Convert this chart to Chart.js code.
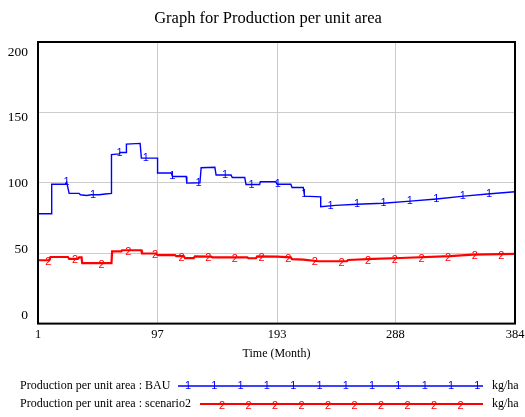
<!DOCTYPE html>
<html>
<head>
<meta charset="utf-8">
<script src="https://cdn.jsdelivr.net/npm/chart.js@4"></script>
<style>
  html, body { margin: 0; padding: 0; background: #fff; }
</style>
</head>
<body>
<canvas id="chart" width="525" height="417"></canvas>
<script>
// Tick labels
const xTicks = [1, 97, 193, 288, 384];
const yTicks = [0, 50, 100, 150, 200];

// BAU series (month, kg/ha) - repeated months are the vertical steps
const bauMonths = [1, 12, 12, 23, 24, 26, 34, 35, 40, 44, 50, 55, 60, 60, 66, 67, 72, 72, 83, 84, 97, 97,
  108, 109, 120, 120.5, 131, 132, 143, 144, 156, 157, 167, 168, 179, 179.5, 192, 193, 204, 205, 214, 215,
  228, 228, 240, 257, 278, 300, 321, 343, 362, 384];
const bauValues = [78, 78, 99, 99, 100.5, 92.5, 92.5, 91.5, 91, 91.5, 91.5, 92, 92.5, 120, 120.5, 121.5, 121.5, 127.5, 128, 117.5, 117.5, 107,
  107, 104.5, 104.5, 99.8, 100, 110.7, 111, 105.5, 105.5, 103.8, 103.8, 98.8, 98.8, 100.7, 100.7, 99, 99, 96.7, 96.7, 90.5,
  90, 83, 84, 84.8, 85.5, 87, 88.5, 90.5, 92, 93.6];

// scenario2 series
const sc2Months = [1, 10, 11, 25, 26, 33, 34, 36, 36.5, 60, 60.5, 68, 68.5, 84, 84.5, 96, 97, 111, 112, 118, 119,
  126, 127, 140, 141, 169, 170, 176, 177, 193, 204, 205, 214, 226, 249, 250, 270, 292, 332, 350, 384];
const sc2Values = [45, 45, 47.3, 47.3, 46, 46, 47, 47, 43, 43, 51.3, 51.3, 52.1, 52.1, 49.8, 49.8, 48.6, 48.6, 47.9, 47.9, 46.5,
  46.5, 47.7, 47.6, 47.1, 47.1, 46.4, 46.4, 47.7, 47.5, 47, 45.8, 45.5, 44.3, 44.4, 45.2, 46, 46.6, 47.9, 49, 49.5];

const seriesNames = ["Production per unit area : BAU", "Production per unit area : scenario2"];
const unitLabel = "kg/ha";
const chartTitle = "Graph for Production per unit area";

const serif = "'Liberation Serif', 'Times New Roman', serif";
const sans = "'Liberation Sans', Arial, sans-serif";

function toPoints(months, values) {
  return months.map((m, i) => ({ x: m, y: values[i] }));
}

// y pixel along the drawn line at a given x pixel
function lineYAt(pts, px) {
  for (let i = pts.length - 2; i >= 0; i--) {
    const a = pts[i], b = pts[i + 1];
    if (a.x <= px && px <= b.x) {
      if (b.x === a.x) return b.y;
      return a.y + (b.y - a.y) * (px - a.x) / (b.x - a.x);
    }
  }
  return pts[pts.length - 1].y;
}

// Vensim-style number markers on each line
const markerPlugin = {
  id: "markers",
  afterDatasetsDraw(chart) {
    const ctx = chart.ctx;
    const xs = chart.scales.x;
    ctx.save();
    ctx.font = "11px " + sans;
    ctx.textAlign = "center";
    ctx.textBaseline = "middle";
    chart.data.datasets.forEach((ds, di) => {
      const pts = chart.getDatasetMeta(di).data;
      ctx.fillStyle = ds.borderColor;
      for (let m = ds.markerStart; m <= xs.max + 0.01; m += ds.markerStep) {
        const px = xs.getPixelForValue(m);
        const py = lineYAt(pts, px);
        ctx.fillText(ds.markerChar, px, py + ds.markerDy);
      }
    });
    ctx.restore();
  }
};

// black frame round the plot + title
const framePlugin = {
  id: "frame",
  afterDatasetsDraw(chart) {
    const a = chart.chartArea;
    const ctx = chart.ctx;
    ctx.save();
    ctx.strokeStyle = "#000";
    ctx.lineWidth = 2;
    ctx.strokeRect(a.left, a.top, a.right - a.left, a.bottom - a.top);
    ctx.font = "16.5px " + serif;
    ctx.fillStyle = "#000";
    ctx.textAlign = "center";
    ctx.textBaseline = "middle";
    ctx.fillText(chartTitle, 268, 19);
    ctx.restore();
  }
};

// legend rows under the chart
const legendPlugin = {
  id: "vlegend",
  afterDraw(chart) {
    const ctx = chart.ctx;
    const rows = [
      { y: 386, lineStart: 178, first: 188, step: 26.3, count: 12 },
      { y: 404, lineStart: 200, first: 222, step: 26.5, count: 10 }
    ];
    const lineEnd = 483;
    ctx.save();
    chart.data.datasets.forEach((ds, i) => {
      const r = rows[i];
      ctx.font = "12px " + serif;
      ctx.fillStyle = "#000";
      ctx.textAlign = "left";
      ctx.textBaseline = "middle";
      ctx.fillText(ds.label, 20, r.y);
      ctx.fillText(unitLabel, 492, r.y);
      ctx.strokeStyle = ds.borderColor;
      ctx.lineWidth = ds.borderWidth;
      ctx.beginPath();
      ctx.moveTo(r.lineStart, r.y);
      ctx.lineTo(lineEnd, r.y);
      ctx.stroke();
      ctx.font = "11px " + sans;
      ctx.fillStyle = ds.borderColor;
      ctx.textAlign = "center";
      for (let k = 0; k < r.count; k++) {
        ctx.fillText(ds.markerChar, r.first + k * r.step, r.y + ds.markerDy);
      }
    });
    ctx.restore();
  }
};

const ctx = document.getElementById("chart").getContext("2d");
new Chart(ctx, {
  type: "line",
  data: {
    datasets: [
      {
        label: seriesNames[0],
        data: toPoints(bauMonths, bauValues),
        borderColor: "#0000ff",
        borderWidth: 1.4,
        markerChar: "1", markerStart: 24, markerStep: 21.2, markerDy: 0
      },
      {
        label: seriesNames[1],
        data: toPoints(sc2Months, sc2Values),
        borderColor: "#ff0000",
        borderWidth: 2.2,
        markerChar: "2", markerStart: 9.3, markerStep: 21.4, markerDy: 1.5
      }
    ]
  },
  options: {
    responsive: false,
    animation: false,
    devicePixelRatio: 1,
    elements: { point: { radius: 0 }, line: { tension: 0, fill: false } },
    layout: { padding: { left: 0, right: 10, top: 42, bottom: 56 } },
    plugins: {
      legend: { display: false },
      tooltip: { enabled: false },
      title: { display: false }
    },
    scales: {
      x: {
        type: "linear",
        min: 1,
        max: 384,
        afterBuildTicks: s => { s.ticks = xTicks.map(v => ({ value: v })); },
        afterFit: s => { s.paddingLeft = 0; s.paddingRight = 0; },
        grid: { color: "#cccccc", lineWidth: 1, drawTicks: false },
        border: { display: false },
        ticks: { color: "#000", font: { family: serif, size: 12.5 }, padding: 4, maxRotation: 0, autoSkip: false },
        title: { display: true, text: "Time (Month)", color: "#000", font: { family: serif, size: 12 }, padding: { top: 0, bottom: 0 } }
      },
      y: {
        min: 0,
        max: 200,
        afterBuildTicks: s => { s.ticks = yTicks.map(v => ({ value: v })); },
        grid: { color: "#cccccc", lineWidth: 1, drawTicks: false },
        border: { display: false },
        ticks: { display: false },
        afterFit: s => { s.width = 0; }
      },
      // label-only axis: Vensim spreads the numbers inside the frame
      yl: {
        position: "left",
        min: -6.1,
        max: 207.6,
        afterBuildTicks: s => { s.ticks = yTicks.map(v => ({ value: v })); },
        grid: { display: false, drawTicks: false },
        border: { display: false },
        ticks: { color: "#000", font: { family: serif, size: 13.5 }, padding: 10 },
        afterFit: s => { s.width = 38; }
      }
    }
  },
  plugins: [framePlugin, markerPlugin, legendPlugin]
});
</script>
</body>
</html>
